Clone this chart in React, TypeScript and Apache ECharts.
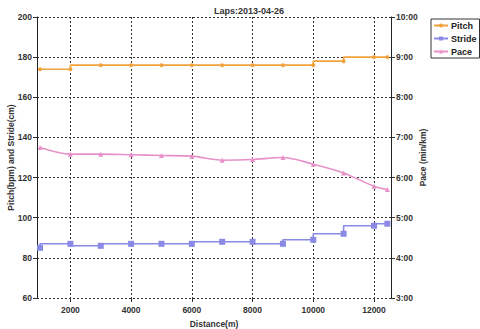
import React, { useEffect, useRef } from "react";
import * as echarts from "echarts";

const distances = [1000, 2000, 3000, 4000, 5000, 6000, 7000, 8000, 9000, 10000, 11000, 12000, 12440];
const pitch = [174, 174, 176, 176, 176, 176, 176, 176, 176, 176, 178, 180, 180];
const stride = [85, 87, 86, 87, 87, 87, 88, 88, 87, 89, 92, 96, 97];
// pace in seconds per km
const paceSec = [405, 395, 395, 394, 393, 392, 386, 387, 390, 380, 367, 347, 342];
const xTicks = [2000, 4000, 6000, 8000, 10000, 12000];

const fmtPace = (v: number) => {
  const m = Math.floor(v / 60);
  const s = Math.round(v - m * 60);
  return m + ":" + (s < 10 ? "0" : "") + s;
};

const FONT = "'Liberation Sans', Arial, sans-serif";
const gridLine = { show: true, lineStyle: { color: "#333", width: 1, type: [2, 2] as any } };
const labelStyle = { fontFamily: FONT, fontSize: 8.5, fontWeight: "bold" as const, color: "#333" };
const nameStyle = { fontFamily: FONT, fontSize: 8.5, fontWeight: "bold" as const, color: "#333" };

export default function App() {
  const ref = useRef<HTMLDivElement>(null);
  useEffect(() => {
    if (!ref.current) return;
    const chart = echarts.init(ref.current, null, { renderer: "svg" });
    const zip = (ys: number[]) => distances.map((x, i) => [x, ys[i]]);
    chart.setOption({
      animation: false,
      backgroundColor: "#fff",
      title: {
        text: "Laps:2013-04-26",
        left: 244,
        textAlign: "center",
        top: 1,
        textStyle: { fontFamily: FONT, fontSize: 9, fontWeight: "bold", color: "#333" },
      },
      legend: {
        orient: "vertical",
        left: 431,
        top: 19,
        padding: [2, 3, 2, 2],
        itemGap: 4,
        itemWidth: 14,
        itemHeight: 5,
        borderColor: "#333",
        borderWidth: 1,
        textStyle: { fontFamily: FONT, fontSize: 9, fontWeight: "bold", color: "#222", padding: [0, 0, 0, -2] },
        data: ["Pitch", "Stride", "Pace"],
      },
      grid: { left: 37, right: 89, top: 17, bottom: 31, containLabel: false, outerBoundsMode: "none" },
      xAxis: {
        type: "value",
        min: 900,
        max: 12560,
        name: "Distance(m)",
        nameLocation: "middle",
        nameGap: 21,
        nameMoveOverlap: false,
        nameTextStyle: nameStyle,
        axisLine: { show: false },
        axisTick: { show: true, length: 4, customValues: xTicks, lineStyle: { color: "#333" } },
        axisLabel: { ...labelStyle, margin: 7, customValues: xTicks, formatter: (v: number) => String(v) },
        splitLine: gridLine,
      },
      yAxis: [
        {
          type: "value",
          min: 60,
          max: 200,
          interval: 20,
          name: "Pitch(bpm) and Stride(cm)",
          nameLocation: "middle",
          nameRotate: 90,
          nameGap: 22,
          nameMoveOverlap: false,
          nameTextStyle: nameStyle,
          axisLine: { show: true, lineStyle: { color: "#222", width: 1 } },
          axisTick: { show: true, length: 4, lineStyle: { color: "#333" } },
          axisLabel: { ...labelStyle, margin: 5 },
          splitLine: gridLine,
        },
        {
          type: "value",
          min: 180,
          max: 600,
          interval: 60,
          position: "right",
          name: "Pace (min/km)",
          nameLocation: "middle",
          nameRotate: 90,
          nameGap: 27,
          nameMoveOverlap: false,
          nameTextStyle: nameStyle,
          axisLine: { show: true, lineStyle: { color: "#222", width: 1 } },
          axisTick: { show: true, length: 4, lineStyle: { color: "#333" } },
          axisLabel: { ...labelStyle, margin: 5, formatter: (v: number) => fmtPace(v) },
          splitLine: { show: false },
        },
      ],
      series: [
        {
          name: "Pitch",
          type: "line",
          step: "start",
          data: zip(pitch),
          symbol: "circle",
          symbolSize: 4,
          itemStyle: { color: "#f2a23c" },
          lineStyle: { color: "#f2a23c", width: 1.6 },
        },
        {
          name: "Stride",
          type: "line",
          step: "start",
          data: zip(stride),
          symbol: "rect",
          symbolSize: 6,
          itemStyle: { color: "#8a8ae6" },
          lineStyle: { color: "#8a8ae6", width: 1.6 },
        },
        {
          name: "Pace",
          type: "line",
          yAxisIndex: 1,
          smooth: 0.3,
          data: zip(paceSec),
          symbol: "triangle",
          symbolSize: 5,
          itemStyle: { color: "#e890c8" },
          lineStyle: { color: "#e890c8", width: 1.6 },
        },
      ],
    });
    return () => chart.dispose();
  }, []);
  return (
    <div
      ref={ref}
      style={{ position: "fixed", left: 0, top: 0, width: 480, height: 329, background: "#fff" }}
    />
  );
}
